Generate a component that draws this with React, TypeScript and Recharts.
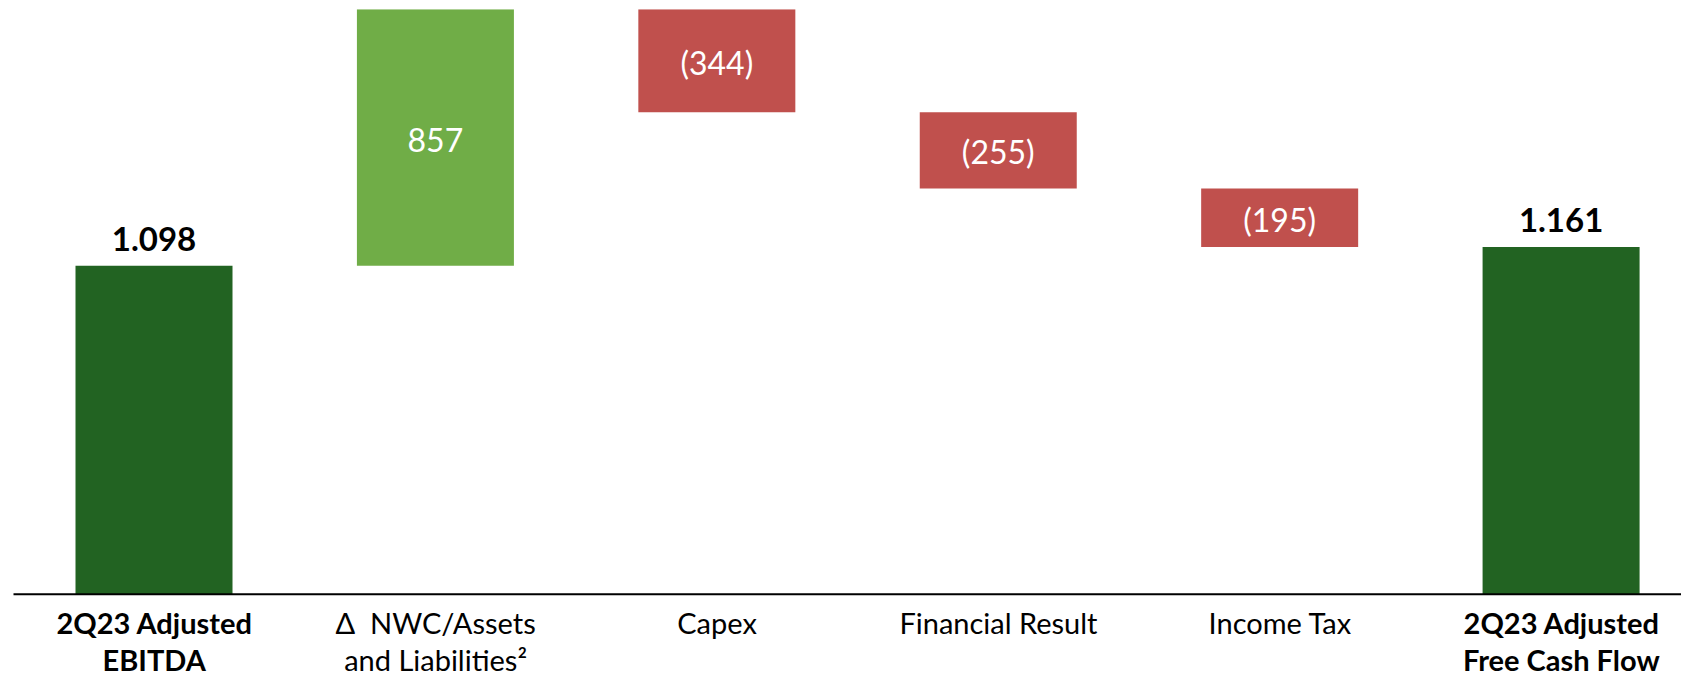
import React from 'react';
import { BarChart, Bar, XAxis, YAxis, Cell, LabelList } from 'recharts';

const categories = [
  '2Q23 Adjusted EBITDA',
  'Δ NWC/Assets and Liabilities²',
  'Capex',
  'Financial Result',
  'Income Tax',
  '2Q23 Adjusted Free Cash Flow',
];
const tickLines: string[][] = [
  ['2Q23 Adjusted', 'EBITDA'],
  ['Δ  NWC/Assets', 'and Liabilities²'],
  ['Capex'],
  ['Financial Result'],
  ['Income Tax'],
  ['2Q23 Adjusted', 'Free Cash Flow'],
];
const values = [1098, 857, -344, -255, -195, 1161];
const isTotal = [true, false, false, false, false, true];
const valueLabels = ['1.098', '857', '(344)', '(255)', '(195)', '1.161'];

const COLORS = { total: '#226322', up: '#70AD47', down: '#C0504D' };
const FONT = 'Lato, "Open Sans", sans-serif';

// build waterfall table
let running = 0;
const data = categories.map((name, i) => {
  const v = values[i];
  let base = 0;
  let size = 0;
  if (isTotal[i]) {
    base = 0;
    size = v;
    running = v;
  } else if (v >= 0) {
    base = running;
    size = v;
    running += v;
  } else {
    running += v;
    base = running;
    size = -v;
  }
  return { name, base, size, index: i };
});

const CategoryTick = (props: any) => {
  const { x, y, payload } = props;
  const i = payload.index;
  const lines = tickLines[i] || [String(payload.value)];
  return (
    <g>
      {lines.map((ln, k) => (
        <text
          key={k}
          x={x}
          y={y + 39.7 + k * 37}
          textAnchor="middle"
          fontFamily={FONT}
          fontSize={29}
          fontWeight={isTotal[i] ? 700 : 400}
          fill="#000"
          style={{ whiteSpace: 'pre' }}
        >
          {ln}
        </text>
      ))}
    </g>
  );
};

const ValueLabel = (props: any) => {
  const { x, y, width, height, index } = props;
  const cx = x + width / 2;
  if (isTotal[index]) {
    return (
      <text x={cx} y={y - 15} textAnchor="middle" fontFamily={FONT} fontSize={33} fontWeight={700} fill="#000">
        {valueLabels[index]}
      </text>
    );
  }
  return (
    <text x={cx} y={y + height / 2 + 14} textAnchor="middle" fontFamily={FONT} fontSize={32} fontWeight={400} fill="#fff">
      {valueLabels[index]}
    </text>
  );
};

export default function App() {
  return (
    <div style={{ position: 'absolute', left: 0, top: 0, width: 1681, height: 676, overflow: 'hidden', background: '#fff' }}>
      <BarChart
        width={1702}
        height={676}
        data={data}
        margin={{ top: 9.3, right: 0, left: 13.5, bottom: 0 }}
      >
        <XAxis
          dataKey="name"
          height={81.7}
          tickLine={false}
          tickSize={0}
          tickMargin={0}
          axisLine={{ stroke: '#000', strokeWidth: 2 }}
          tick={<CategoryTick />}
          interval={0}
        />
        <YAxis hide domain={[0, 1955]} allowDataOverflow />
        <Bar dataKey="base" stackId="w" fill="transparent" barSize={157} isAnimationActive={false} />
        <Bar dataKey="size" stackId="w" barSize={157} isAnimationActive={false}>
          {data.map((d, i) => (
            <Cell
              key={i}
              fill={isTotal[i] ? COLORS.total : values[i] >= 0 ? COLORS.up : COLORS.down}
            />
          ))}
          <LabelList dataKey="size" content={<ValueLabel />} />
        </Bar>
      </BarChart>
    </div>
  );
}
